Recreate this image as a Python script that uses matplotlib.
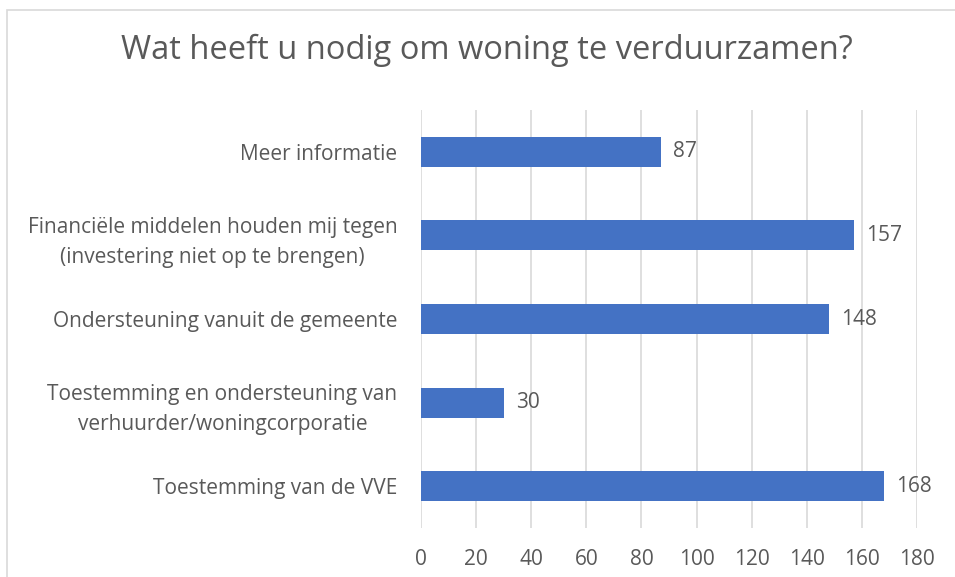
import matplotlib.pyplot as plt
from matplotlib.patches import Rectangle

categories = [
    "Meer informatie",
    "Financiële middelen houden mij tegen\n(investering niet op te brengen)",
    "Ondersteuning vanuit de gemeente",
    "Toestemming en ondersteuning van\nverhuurder/woningcorporatie",
    "Toestemming van de VVE",
]
values = [87, 157, 148, 30, 168]
xticks = list(range(0, 181, 20))

TEXT = "#595959"
GRID = "#d9d9d9"
BLUE = "#4472C4"

plt.rcParams["font.family"] = ["Open Sans", "DejaVu Sans"]

fig = plt.figure(figsize=(9.55, 5.77), dpi=100)
fig.patches.append(Rectangle((7 / 955, -0.1), 1.2, 1 - 10 / 577 + 0.1,
                             transform=fig.transFigure, fill=False,
                             edgecolor=GRID, linewidth=1.2))

ax = fig.add_axes([421 / 955, 1 - 528 / 577, 496 / 955, 418 / 577])
ypos = list(range(len(categories)))
ax.barh(ypos, values, height=0.36, color=BLUE, zorder=3)
for y, v in zip(ypos, values):
    ax.text(v + 4.5, y, str(v), va="center", ha="left", fontsize=15, color=TEXT)

ax.set_ylim(len(categories) - 0.5, -0.5)
ax.set_xlim(0, 180)
ax.set_yticks(ypos)
ax.set_yticklabels(categories, fontsize=15, color=TEXT, multialignment="center",
                   linespacing=1.55)
ax.set_xticks(xticks)
ax.set_xticklabels([str(t) for t in xticks], fontsize=15, color=TEXT)
ax.tick_params(axis="both", length=0)
ax.tick_params(axis="y", pad=17)
ax.tick_params(axis="x", pad=15)
ax.grid(axis="x", color=GRID, linewidth=1.2, zorder=0)
for s in ax.spines.values():
    s.set_visible(False)

fig.text(487 / 955, 1 - 50 / 577, "Wat heeft u nodig om woning te verduurzamen?",
         ha="center", va="center", fontsize=23.5, color=TEXT)

fig.savefig("out.png", dpi=100)
